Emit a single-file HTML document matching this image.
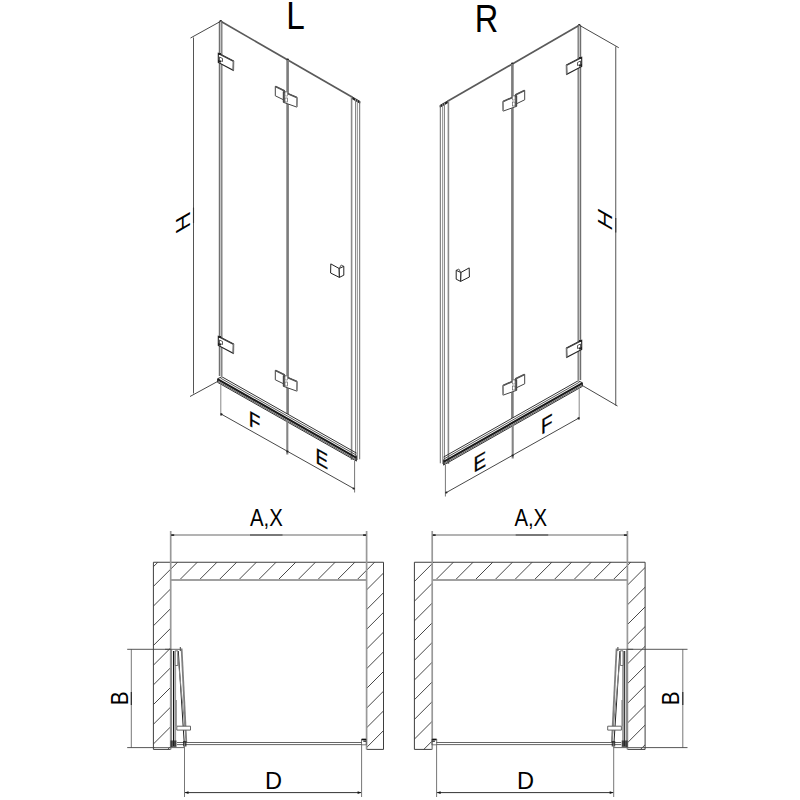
<!DOCTYPE html>
<html><head><meta charset="utf-8"><style>
html,body{margin:0;padding:0;background:#fff;width:800px;height:800px;overflow:hidden}
svg{display:block}
</style></head><body>
<svg width="800" height="800" viewBox="0 0 800 800">
<rect width="800" height="800" fill="#fff"/>
<g>
<line x1="220.75" y1="21.25" x2="352" y2="97.11" stroke="#5a5a5a" stroke-width="1.7" />
<circle cx="220.7" cy="21.4" r="1.3" fill="#222"/>
<circle cx="287.8" cy="59.8" r="1.2" fill="#222"/>
<polygon points="351.6,96.48 359.9,101.28 359.9,103.28 351.6,98.48" stroke="#111" stroke-width="0.7" fill="#222" />
<rect x="219.3" y="21.25" width="2.5" height="354.75" fill="#c4c4c4"/>
<line x1="219.3" y1="21.25" x2="219.3" y2="376" stroke="#4a4a4a" stroke-width="0.9" />
<line x1="221.9" y1="21.25" x2="221.9" y2="376" stroke="#4a4a4a" stroke-width="0.9" />
<rect x="286.3" y="59.89" width="2.6" height="354.11" fill="#7c7c7c"/>
<line x1="351.6" y1="96.38" x2="351.6" y2="460" stroke="#8a8a8a" stroke-width="1.6" />
<line x1="355.5" y1="98.64" x2="355.5" y2="460" stroke="#888" stroke-width="1" />
<line x1="357.3" y1="99.68" x2="357.3" y2="460" stroke="#888" stroke-width="1" />
<line x1="359.7" y1="101.06" x2="359.7" y2="459.3" stroke="#6a6a6a" stroke-width="1" />
<line x1="221.8" y1="376.74" x2="356.5" y2="453.11" stroke="#333" stroke-width="1.0" />
<line x1="220.5" y1="378.1" x2="356.5" y2="455.21" stroke="#444" stroke-width="0.9" />
<line x1="217.5" y1="379.1" x2="356.5" y2="457.91" stroke="#1a1a1a" stroke-width="2.2" />
<line x1="217.5" y1="381.1" x2="356.5" y2="459.91" stroke="#444" stroke-width="0.9" />
<line x1="217.5" y1="382.3" x2="356.5" y2="461.11" stroke="#333" stroke-width="1.0" />
<polyline points="221.8,376.74 217.5,378.8 217.5,382.3" stroke="#333" stroke-width="1.0" fill="none" />
<line x1="356.5" y1="455.61" x2="356.5" y2="461.11" stroke="#333" stroke-width="0.9" />
<line x1="220.8" y1="383" x2="220.8" y2="416" stroke="#888" stroke-width="1" />
<line x1="287.3" y1="420" x2="287.3" y2="454.5" stroke="#858585" stroke-width="2.1" />
<line x1="354.6" y1="461" x2="354.6" y2="492.5" stroke="#777" stroke-width="1" />
<line x1="220.5" y1="413.7" x2="354.5" y2="489" stroke="#333" stroke-width="0.9" />
<circle cx="221.5" cy="414.3" r="1.1" fill="#222"/>
<circle cx="287.4" cy="451.5" r="1.1" fill="#222"/>
<circle cx="353.6" cy="488.5" r="1.1" fill="#222"/>
<polygon points="218.3,53.3 233.5,61 233.2,70.3 218.3,62.5" stroke="#222" stroke-width="1.1" fill="#fff" />
<line x1="218.8" y1="53.6" x2="233.3" y2="61.1" stroke="#444" stroke-width="1.6" />
<line x1="233.5" y1="61" x2="233.3" y2="70.3" stroke="#777" stroke-width="1.6" />
<rect x="218" y="53" width="3" height="2" fill="#222"/>
<rect x="218" y="60" width="3" height="2.5" fill="#222"/>
<polygon points="219.5,57 222.5,58.5 222.5,61.5 219.5,60.5" stroke="#333" stroke-width="0.8" fill="#fff" />
<polygon points="218.3,336.3 233.5,344 233.2,353.3 218.3,345.5" stroke="#222" stroke-width="1.1" fill="#fff" />
<line x1="218.8" y1="336.6" x2="233.3" y2="344.1" stroke="#444" stroke-width="1.6" />
<line x1="233.5" y1="344" x2="233.3" y2="353.3" stroke="#777" stroke-width="1.6" />
<rect x="218" y="336" width="3" height="2" fill="#222"/>
<rect x="218" y="343" width="3" height="2.5" fill="#222"/>
<polygon points="219.5,340 222.5,341.5 222.5,344.5 219.5,343.5" stroke="#333" stroke-width="0.8" fill="#fff" />
<polygon points="275.3,86.3 285,91 284,100 275.3,95.8" stroke="#444" stroke-width="1.0" fill="#fff" />
<line x1="275.6" y1="86.5" x2="284.8" y2="91" stroke="#555" stroke-width="1.6" />
<polygon points="283.3,91.6 297.1,97.5 296.8,107.1 283.3,102.3" stroke="#444" stroke-width="1.0" fill="#fff" />
<line x1="284" y1="91.9" x2="296.8" y2="97.4" stroke="#555" stroke-width="1.6" />
<line x1="297.1" y1="97.5" x2="296.8" y2="107.1" stroke="#888" stroke-width="1.6" />
<rect x="283.2" y="91.5" width="1.6" height="11" fill="#444"/>
<rect x="285" y="92" width="2.5" height="4" fill="#fff" stroke="#666" stroke-width="0.6"/>
<rect x="285" y="98" width="2.5" height="4" fill="#fff" stroke="#444" stroke-width="0.6"/>
<polygon points="275.3,370.3 285,375 284,384 275.3,379.8" stroke="#444" stroke-width="1.0" fill="#fff" />
<line x1="275.6" y1="370.5" x2="284.8" y2="375" stroke="#555" stroke-width="1.6" />
<polygon points="283.3,375.6 297.1,381.5 296.8,391.1 283.3,386.3" stroke="#444" stroke-width="1.0" fill="#fff" />
<line x1="284" y1="375.9" x2="296.8" y2="381.4" stroke="#555" stroke-width="1.6" />
<line x1="297.1" y1="381.5" x2="296.8" y2="391.1" stroke="#888" stroke-width="1.6" />
<rect x="283.2" y="375.5" width="1.6" height="11" fill="#444"/>
<rect x="285" y="376" width="2.5" height="4" fill="#fff" stroke="#666" stroke-width="0.6"/>
<rect x="285" y="382" width="2.5" height="4" fill="#fff" stroke="#444" stroke-width="0.6"/>
<polygon points="330.8,263.9 339.2,268.5 339.4,277.4 330.6,273" stroke="#222" stroke-width="1" fill="#fff" />
<polygon points="339.2,268.5 343.8,266.3 343.8,275.2 339.4,277.4" stroke="#222" stroke-width="1" fill="#fff" />
<polyline points="339.2,268.5 341.2,265 343.8,266.3" stroke="#333" stroke-width="0.8" fill="none" />
</g>
<line x1="193.5" y1="37.5" x2="193.5" y2="393.5" stroke="#555" stroke-width="1.0" />
<line x1="193.5" y1="207.5" x2="193.5" y2="223" stroke="#333" stroke-width="1.1" />
<line x1="190.5" y1="38" x2="220.75" y2="21.25" stroke="#333" stroke-width="0.9" />
<line x1="190" y1="396.5" x2="217.5" y2="381.5" stroke="#333" stroke-width="0.9" />
<g transform="translate(800,4) scale(-1,1)">
<line x1="220.75" y1="21.25" x2="352" y2="97.11" stroke="#5a5a5a" stroke-width="1.7" />
<circle cx="220.7" cy="21.4" r="1.3" fill="#222"/>
<circle cx="287.8" cy="59.8" r="1.2" fill="#222"/>
<polygon points="351.6,96.48 359.9,101.28 359.9,103.28 351.6,98.48" stroke="#111" stroke-width="0.7" fill="#222" />
<rect x="219.3" y="21.25" width="2.5" height="354.75" fill="#c4c4c4"/>
<line x1="219.3" y1="21.25" x2="219.3" y2="376" stroke="#4a4a4a" stroke-width="0.9" />
<line x1="221.9" y1="21.25" x2="221.9" y2="376" stroke="#4a4a4a" stroke-width="0.9" />
<rect x="286.3" y="59.89" width="2.6" height="354.11" fill="#7c7c7c"/>
<line x1="351.6" y1="96.38" x2="351.6" y2="460" stroke="#8a8a8a" stroke-width="1.6" />
<line x1="355.5" y1="98.64" x2="355.5" y2="460" stroke="#888" stroke-width="1" />
<line x1="357.3" y1="99.68" x2="357.3" y2="460" stroke="#888" stroke-width="1" />
<line x1="359.7" y1="101.06" x2="359.7" y2="459.3" stroke="#6a6a6a" stroke-width="1" />
<line x1="221.8" y1="376.74" x2="356.5" y2="453.11" stroke="#333" stroke-width="1.0" />
<line x1="220.5" y1="378.1" x2="356.5" y2="455.21" stroke="#444" stroke-width="0.9" />
<line x1="217.5" y1="379.1" x2="356.5" y2="457.91" stroke="#1a1a1a" stroke-width="2.2" />
<line x1="217.5" y1="381.1" x2="356.5" y2="459.91" stroke="#444" stroke-width="0.9" />
<line x1="217.5" y1="382.3" x2="356.5" y2="461.11" stroke="#333" stroke-width="1.0" />
<polyline points="221.8,376.74 217.5,378.8 217.5,382.3" stroke="#333" stroke-width="1.0" fill="none" />
<line x1="356.5" y1="455.61" x2="356.5" y2="461.11" stroke="#333" stroke-width="0.9" />
<line x1="220.8" y1="383" x2="220.8" y2="416" stroke="#888" stroke-width="1" />
<line x1="287.3" y1="420" x2="287.3" y2="454.5" stroke="#858585" stroke-width="2.1" />
<line x1="354.6" y1="461" x2="354.6" y2="492.5" stroke="#777" stroke-width="1" />
<line x1="220.5" y1="413.7" x2="354.5" y2="489" stroke="#333" stroke-width="0.9" />
<circle cx="221.5" cy="414.3" r="1.1" fill="#222"/>
<circle cx="287.4" cy="451.5" r="1.1" fill="#222"/>
<circle cx="353.6" cy="488.5" r="1.1" fill="#222"/>
<polygon points="218.3,53.3 233.5,61 233.2,70.3 218.3,62.5" stroke="#222" stroke-width="1.1" fill="#fff" />
<line x1="218.8" y1="53.6" x2="233.3" y2="61.1" stroke="#444" stroke-width="1.6" />
<line x1="233.5" y1="61" x2="233.3" y2="70.3" stroke="#777" stroke-width="1.6" />
<rect x="218" y="53" width="3" height="2" fill="#222"/>
<rect x="218" y="60" width="3" height="2.5" fill="#222"/>
<polygon points="219.5,57 222.5,58.5 222.5,61.5 219.5,60.5" stroke="#333" stroke-width="0.8" fill="#fff" />
<polygon points="218.3,336.3 233.5,344 233.2,353.3 218.3,345.5" stroke="#222" stroke-width="1.1" fill="#fff" />
<line x1="218.8" y1="336.6" x2="233.3" y2="344.1" stroke="#444" stroke-width="1.6" />
<line x1="233.5" y1="344" x2="233.3" y2="353.3" stroke="#777" stroke-width="1.6" />
<rect x="218" y="336" width="3" height="2" fill="#222"/>
<rect x="218" y="343" width="3" height="2.5" fill="#222"/>
<polygon points="219.5,340 222.5,341.5 222.5,344.5 219.5,343.5" stroke="#333" stroke-width="0.8" fill="#fff" />
<polygon points="275.3,86.3 285,91 284,100 275.3,95.8" stroke="#444" stroke-width="1.0" fill="#fff" />
<line x1="275.6" y1="86.5" x2="284.8" y2="91" stroke="#555" stroke-width="1.6" />
<polygon points="283.3,91.6 297.1,97.5 296.8,107.1 283.3,102.3" stroke="#444" stroke-width="1.0" fill="#fff" />
<line x1="284" y1="91.9" x2="296.8" y2="97.4" stroke="#555" stroke-width="1.6" />
<line x1="297.1" y1="97.5" x2="296.8" y2="107.1" stroke="#888" stroke-width="1.6" />
<rect x="283.2" y="91.5" width="1.6" height="11" fill="#444"/>
<rect x="285" y="92" width="2.5" height="4" fill="#fff" stroke="#666" stroke-width="0.6"/>
<rect x="285" y="98" width="2.5" height="4" fill="#fff" stroke="#444" stroke-width="0.6"/>
<polygon points="275.3,370.3 285,375 284,384 275.3,379.8" stroke="#444" stroke-width="1.0" fill="#fff" />
<line x1="275.6" y1="370.5" x2="284.8" y2="375" stroke="#555" stroke-width="1.6" />
<polygon points="283.3,375.6 297.1,381.5 296.8,391.1 283.3,386.3" stroke="#444" stroke-width="1.0" fill="#fff" />
<line x1="284" y1="375.9" x2="296.8" y2="381.4" stroke="#555" stroke-width="1.6" />
<line x1="297.1" y1="381.5" x2="296.8" y2="391.1" stroke="#888" stroke-width="1.6" />
<rect x="283.2" y="375.5" width="1.6" height="11" fill="#444"/>
<rect x="285" y="376" width="2.5" height="4" fill="#fff" stroke="#666" stroke-width="0.6"/>
<rect x="285" y="382" width="2.5" height="4" fill="#fff" stroke="#444" stroke-width="0.6"/>
<polygon points="330.8,263.9 339.2,268.5 339.4,277.4 330.6,273" stroke="#222" stroke-width="1" fill="#fff" />
<polygon points="339.2,268.5 343.8,266.3 343.8,275.2 339.4,277.4" stroke="#222" stroke-width="1" fill="#fff" />
<polyline points="339.2,268.5 341.2,265 343.8,266.3" stroke="#333" stroke-width="0.8" fill="none" />
</g>
<line x1="615.75" y1="46.5" x2="615.75" y2="405.5" stroke="#555" stroke-width="1.0" />
<line x1="615.75" y1="218" x2="615.75" y2="232.5" stroke="#333" stroke-width="1.1" />
<line x1="579.3" y1="25.2" x2="618.75" y2="47.7" stroke="#333" stroke-width="0.9" />
<line x1="582.75" y1="385.75" x2="617.5" y2="406" stroke="#333" stroke-width="0.9" />
<text transform="translate(286.2,28.9) scale(0.87,1)" font-size="38.3" font-family="'Liberation Sans', sans-serif" fill="#000">L</text>
<text transform="translate(474.8,32) scale(0.86,1)" font-size="37.9" font-family="'Liberation Sans', sans-serif" fill="#000">R</text>
<text transform="matrix(0.866,0.5,0,1,248.8,425.2)" font-size="21.8" stroke="#000" stroke-width="0.35" font-family="'Liberation Sans', sans-serif" fill="#000">F</text>
<text transform="matrix(0.866,0.5,0,1,315.6,462.4)" font-size="21.8" stroke="#000" stroke-width="0.35" font-family="'Liberation Sans', sans-serif" fill="#000">E</text>
<text transform="matrix(0.866,-0.5,0,1,473.5,473.1)" font-size="21.8" stroke="#000" stroke-width="0.35" font-family="'Liberation Sans', sans-serif" fill="#000">E</text>
<text transform="matrix(0.866,-0.5,0,1,541,435)" font-size="21.8" stroke="#000" stroke-width="0.35" font-family="'Liberation Sans', sans-serif" fill="#000">F</text>
<text transform="matrix(0,-1,0.866,-0.5,190,226.9)" font-size="23.4" font-family="'Liberation Sans', sans-serif" fill="#000">H</text>
<text transform="matrix(0,-1,0.866,0.5,611.8,231.8)" font-size="23.4" font-family="'Liberation Sans', sans-serif" fill="#000">H</text>
<clipPath id="clipL"><polygon points="153.4,562.25 383.5,562.25 383.5,749.4 366.6,749.4 366.6,580 170.7,580 170.7,749.4 153.4,749.4"/></clipPath>
<g clip-path="url(#clipL)">
<line x1="103.75" y1="557.25" x2="-93.4" y2="754.4" stroke="#333" stroke-width="0.9"/>
<line x1="123.45" y1="557.25" x2="-73.7" y2="754.4" stroke="#333" stroke-width="0.9"/>
<line x1="143.15" y1="557.25" x2="-54" y2="754.4" stroke="#333" stroke-width="0.9"/>
<line x1="162.85" y1="557.25" x2="-34.3" y2="754.4" stroke="#333" stroke-width="0.9"/>
<line x1="182.55" y1="557.25" x2="-14.6" y2="754.4" stroke="#333" stroke-width="0.9"/>
<line x1="202.25" y1="557.25" x2="5.1" y2="754.4" stroke="#333" stroke-width="0.9"/>
<line x1="221.95" y1="557.25" x2="24.8" y2="754.4" stroke="#333" stroke-width="0.9"/>
<line x1="241.65" y1="557.25" x2="44.5" y2="754.4" stroke="#333" stroke-width="0.9"/>
<line x1="261.35" y1="557.25" x2="64.2" y2="754.4" stroke="#333" stroke-width="0.9"/>
<line x1="281.05" y1="557.25" x2="83.9" y2="754.4" stroke="#333" stroke-width="0.9"/>
<line x1="300.75" y1="557.25" x2="103.6" y2="754.4" stroke="#333" stroke-width="0.9"/>
<line x1="320.45" y1="557.25" x2="123.3" y2="754.4" stroke="#333" stroke-width="0.9"/>
<line x1="340.15" y1="557.25" x2="143" y2="754.4" stroke="#333" stroke-width="0.9"/>
<line x1="359.85" y1="557.25" x2="162.7" y2="754.4" stroke="#333" stroke-width="0.9"/>
<line x1="379.55" y1="557.25" x2="182.4" y2="754.4" stroke="#333" stroke-width="0.9"/>
<line x1="399.25" y1="557.25" x2="202.1" y2="754.4" stroke="#333" stroke-width="0.9"/>
<line x1="418.95" y1="557.25" x2="221.8" y2="754.4" stroke="#333" stroke-width="0.9"/>
<line x1="438.65" y1="557.25" x2="241.5" y2="754.4" stroke="#333" stroke-width="0.9"/>
<line x1="458.35" y1="557.25" x2="261.2" y2="754.4" stroke="#333" stroke-width="0.9"/>
<line x1="478.05" y1="557.25" x2="280.9" y2="754.4" stroke="#333" stroke-width="0.9"/>
<line x1="497.75" y1="557.25" x2="300.6" y2="754.4" stroke="#333" stroke-width="0.9"/>
<line x1="517.45" y1="557.25" x2="320.3" y2="754.4" stroke="#333" stroke-width="0.9"/>
<line x1="537.15" y1="557.25" x2="340" y2="754.4" stroke="#333" stroke-width="0.9"/>
<line x1="556.85" y1="557.25" x2="359.7" y2="754.4" stroke="#333" stroke-width="0.9"/>
<line x1="576.55" y1="557.25" x2="379.4" y2="754.4" stroke="#333" stroke-width="0.9"/>
</g>
<polyline points="170.7,749.4 153.4,749.4 153.4,562.25 383.5,562.25 383.5,749.4 366.6,749.4" stroke="#3e3e3e" stroke-width="1" fill="none" />
<line x1="170.7" y1="580" x2="366.6" y2="580" stroke="#a0a0a0" stroke-width="2.2" />
<line x1="170.7" y1="531" x2="170.7" y2="749.4" stroke="#999" stroke-width="1.7" />
<line x1="366.6" y1="531" x2="366.6" y2="749.4" stroke="#999" stroke-width="1.7" />
<line x1="170.7" y1="535.1" x2="366.6" y2="535.1" stroke="#9a9a9a" stroke-width="1.5" />
<line x1="250" y1="535.1" x2="282.5" y2="535.1" stroke="#666" stroke-width="1.5" />
<line x1="171.2" y1="535.1" x2="174.2" y2="535.1" stroke="#222" stroke-width="1.6" />
<line x1="366.1" y1="535.1" x2="363.1" y2="535.1" stroke="#222" stroke-width="1.6" />
<line x1="177" y1="742.5" x2="362" y2="742.5" stroke="#555" stroke-width="0.9" />
<line x1="177" y1="744.6" x2="362" y2="744.6" stroke="#555" stroke-width="0.9" />
<polygon points="361.5,739 366.3,739 366.3,744.8 361.5,744.8" stroke="#555" stroke-width="0.8" fill="none" />
<line x1="361.8" y1="739.6" x2="366" y2="739.6" stroke="#111" stroke-width="1.4" />
<line x1="363.3" y1="741.2" x2="366" y2="741.2" stroke="#222" stroke-width="1.2" />
<line x1="173.5" y1="651" x2="173.5" y2="746" stroke="#111" stroke-width="1.0" />
<line x1="175.2" y1="651" x2="175.2" y2="746" stroke="#999" stroke-width="1.8" />
<line x1="171.3" y1="649.3" x2="171.3" y2="747" stroke="#888" stroke-width="1.6" />
<line x1="178.3" y1="651" x2="184.3" y2="744" stroke="#222" stroke-width="1.0" />
<line x1="181.6" y1="648.5" x2="186.3" y2="742" stroke="#808080" stroke-width="1.8" />
<line x1="177.6" y1="653" x2="186" y2="738" stroke="#888" stroke-width="1.0" />
<line x1="180.3" y1="647" x2="180.3" y2="651" stroke="#444" stroke-width="1" />
<polygon points="175.2,650.8 177.8,650.8 177.8,665.5 175.2,665.5" stroke="#555" stroke-width="0.8" fill="#fff" />
<polygon points="176.8,726.2 190.5,726.2 190.5,730.1 176.8,730.1" stroke="#555" stroke-width="0.9" fill="#fff" />
<line x1="176.2" y1="700" x2="176.2" y2="726" stroke="#777" stroke-width="1" />
<line x1="165" y1="649.3" x2="180.5" y2="649.3" stroke="#555" stroke-width="0.9" />
<line x1="153.4" y1="747.6" x2="185" y2="747.6" stroke="#555" stroke-width="0.9" />
<rect x="170.5" y="740.5" width="6" height="6.5" fill="#222" opacity="0.75"/>
<rect x="183" y="741" width="3.5" height="5.5" fill="#222" opacity="0.8"/>
<line x1="184.5" y1="792.6" x2="361.6" y2="792.6" stroke="#333" stroke-width="1" />
<polygon points="184.8,792.6 188.5,791.2 188.5,794" fill="#111"/>
<polygon points="361.3,792.6 357.6,791.2 357.6,794" fill="#111"/>
<line x1="184.5" y1="742.5" x2="184.5" y2="797" stroke="#777" stroke-width="1" />
<line x1="361.6" y1="744.75" x2="361.6" y2="797" stroke="#777" stroke-width="1" />
<clipPath id="clipR"><polygon points="645.1,562.25 414.4,562.25 414.4,749.4 432.2,749.4 432.2,580 627.4,580 627.4,749.4 645.1,749.4"/></clipPath>
<g clip-path="url(#clipR)">
<line x1="182.55" y1="557.25" x2="-14.6" y2="754.4" stroke="#333" stroke-width="0.9"/>
<line x1="202.25" y1="557.25" x2="5.1" y2="754.4" stroke="#333" stroke-width="0.9"/>
<line x1="221.95" y1="557.25" x2="24.8" y2="754.4" stroke="#333" stroke-width="0.9"/>
<line x1="241.65" y1="557.25" x2="44.5" y2="754.4" stroke="#333" stroke-width="0.9"/>
<line x1="261.35" y1="557.25" x2="64.2" y2="754.4" stroke="#333" stroke-width="0.9"/>
<line x1="281.05" y1="557.25" x2="83.9" y2="754.4" stroke="#333" stroke-width="0.9"/>
<line x1="300.75" y1="557.25" x2="103.6" y2="754.4" stroke="#333" stroke-width="0.9"/>
<line x1="320.45" y1="557.25" x2="123.3" y2="754.4" stroke="#333" stroke-width="0.9"/>
<line x1="340.15" y1="557.25" x2="143" y2="754.4" stroke="#333" stroke-width="0.9"/>
<line x1="359.85" y1="557.25" x2="162.7" y2="754.4" stroke="#333" stroke-width="0.9"/>
<line x1="379.55" y1="557.25" x2="182.4" y2="754.4" stroke="#333" stroke-width="0.9"/>
<line x1="399.25" y1="557.25" x2="202.1" y2="754.4" stroke="#333" stroke-width="0.9"/>
<line x1="418.95" y1="557.25" x2="221.8" y2="754.4" stroke="#333" stroke-width="0.9"/>
<line x1="438.65" y1="557.25" x2="241.5" y2="754.4" stroke="#333" stroke-width="0.9"/>
<line x1="458.35" y1="557.25" x2="261.2" y2="754.4" stroke="#333" stroke-width="0.9"/>
<line x1="478.05" y1="557.25" x2="280.9" y2="754.4" stroke="#333" stroke-width="0.9"/>
<line x1="497.75" y1="557.25" x2="300.6" y2="754.4" stroke="#333" stroke-width="0.9"/>
<line x1="517.45" y1="557.25" x2="320.3" y2="754.4" stroke="#333" stroke-width="0.9"/>
<line x1="537.15" y1="557.25" x2="340" y2="754.4" stroke="#333" stroke-width="0.9"/>
<line x1="556.85" y1="557.25" x2="359.7" y2="754.4" stroke="#333" stroke-width="0.9"/>
<line x1="576.55" y1="557.25" x2="379.4" y2="754.4" stroke="#333" stroke-width="0.9"/>
<line x1="596.25" y1="557.25" x2="399.1" y2="754.4" stroke="#333" stroke-width="0.9"/>
<line x1="615.95" y1="557.25" x2="418.8" y2="754.4" stroke="#333" stroke-width="0.9"/>
<line x1="635.65" y1="557.25" x2="438.5" y2="754.4" stroke="#333" stroke-width="0.9"/>
<line x1="655.35" y1="557.25" x2="458.2" y2="754.4" stroke="#333" stroke-width="0.9"/>
<line x1="675.05" y1="557.25" x2="477.9" y2="754.4" stroke="#333" stroke-width="0.9"/>
<line x1="694.75" y1="557.25" x2="497.6" y2="754.4" stroke="#333" stroke-width="0.9"/>
<line x1="714.45" y1="557.25" x2="517.3" y2="754.4" stroke="#333" stroke-width="0.9"/>
<line x1="734.15" y1="557.25" x2="537" y2="754.4" stroke="#333" stroke-width="0.9"/>
<line x1="753.85" y1="557.25" x2="556.7" y2="754.4" stroke="#333" stroke-width="0.9"/>
<line x1="773.55" y1="557.25" x2="576.4" y2="754.4" stroke="#333" stroke-width="0.9"/>
<line x1="793.25" y1="557.25" x2="596.1" y2="754.4" stroke="#333" stroke-width="0.9"/>
<line x1="812.95" y1="557.25" x2="615.8" y2="754.4" stroke="#333" stroke-width="0.9"/>
<line x1="832.65" y1="557.25" x2="635.5" y2="754.4" stroke="#333" stroke-width="0.9"/>
<line x1="852.35" y1="557.25" x2="655.2" y2="754.4" stroke="#333" stroke-width="0.9"/>
</g>
<polyline points="627.4,749.4 645.1,749.4 645.1,562.25 414.4,562.25 414.4,749.4 432.2,749.4" stroke="#3e3e3e" stroke-width="1" fill="none" />
<line x1="627.4" y1="580" x2="432.2" y2="580" stroke="#a0a0a0" stroke-width="2.2" />
<line x1="627.4" y1="531" x2="627.4" y2="749.4" stroke="#999" stroke-width="1.7" />
<line x1="432.2" y1="531" x2="432.2" y2="749.4" stroke="#999" stroke-width="1.7" />
<line x1="627.4" y1="535.1" x2="432.2" y2="535.1" stroke="#9a9a9a" stroke-width="1.5" />
<line x1="548.2" y1="535.1" x2="515.7" y2="535.1" stroke="#666" stroke-width="1.5" />
<line x1="626.9" y1="535.1" x2="623.9" y2="535.1" stroke="#222" stroke-width="1.6" />
<line x1="432.7" y1="535.1" x2="435.7" y2="535.1" stroke="#222" stroke-width="1.6" />
<line x1="621.2" y1="742.5" x2="436.2" y2="742.5" stroke="#555" stroke-width="0.9" />
<line x1="621.2" y1="744.6" x2="436.2" y2="744.6" stroke="#555" stroke-width="0.9" />
<polygon points="436.7,739 431.9,739 431.9,744.8 436.7,744.8" stroke="#555" stroke-width="0.8" fill="none" />
<line x1="436.4" y1="739.6" x2="432.2" y2="739.6" stroke="#111" stroke-width="1.4" />
<line x1="434.9" y1="741.2" x2="432.2" y2="741.2" stroke="#222" stroke-width="1.2" />
<line x1="624.7" y1="651" x2="624.7" y2="746" stroke="#111" stroke-width="1.0" />
<line x1="623" y1="651" x2="623" y2="746" stroke="#999" stroke-width="1.8" />
<line x1="626.9" y1="649.3" x2="626.9" y2="747" stroke="#888" stroke-width="1.6" />
<line x1="619.9" y1="651" x2="613.9" y2="744" stroke="#222" stroke-width="1.0" />
<line x1="616.6" y1="648.5" x2="611.9" y2="742" stroke="#808080" stroke-width="1.8" />
<line x1="620.6" y1="653" x2="612.2" y2="738" stroke="#888" stroke-width="1.0" />
<line x1="617.9" y1="647" x2="617.9" y2="651" stroke="#444" stroke-width="1" />
<polygon points="623,650.8 620.4,650.8 620.4,665.5 623,665.5" stroke="#555" stroke-width="0.8" fill="#fff" />
<polygon points="621.4,726.2 607.7,726.2 607.7,730.1 621.4,730.1" stroke="#555" stroke-width="0.9" fill="#fff" />
<line x1="622" y1="700" x2="622" y2="726" stroke="#777" stroke-width="1" />
<line x1="633.2" y1="649.3" x2="617.7" y2="649.3" stroke="#555" stroke-width="0.9" />
<line x1="644.8" y1="747.6" x2="613.2" y2="747.6" stroke="#555" stroke-width="0.9" />
<rect x="621.7" y="740.5" width="6" height="6.5" fill="#222" opacity="0.75"/>
<rect x="611.7" y="741" width="3.5" height="5.5" fill="#222" opacity="0.8"/>
<line x1="613.7" y1="792.6" x2="436.6" y2="792.6" stroke="#333" stroke-width="1" />
<polygon points="613.4,792.6 609.7,791.2 609.7,794" fill="#111"/>
<polygon points="436.9,792.6 440.6,791.2 440.6,794" fill="#111"/>
<line x1="613.7" y1="742.5" x2="613.7" y2="797" stroke="#777" stroke-width="1" />
<line x1="436.6" y1="744.75" x2="436.6" y2="797" stroke="#777" stroke-width="1" />
<line x1="131.3" y1="649.3" x2="131.3" y2="747.6" stroke="#777" stroke-width="1" />
<line x1="131.3" y1="692" x2="131.3" y2="705" stroke="#222" stroke-width="1.1" />
<line x1="127.2" y1="649.3" x2="170.7" y2="649.3" stroke="#444" stroke-width="0.9" />
<line x1="127.2" y1="747.6" x2="154.4" y2="747.6" stroke="#444" stroke-width="0.9" />
<line x1="682.8" y1="649.3" x2="682.8" y2="747.6" stroke="#777" stroke-width="1" />
<line x1="682.8" y1="692" x2="682.8" y2="705" stroke="#222" stroke-width="1.1" />
<line x1="627.5" y1="649.3" x2="687.5" y2="649.3" stroke="#444" stroke-width="0.9" />
<line x1="644.4" y1="747.6" x2="687.5" y2="747.6" stroke="#444" stroke-width="0.9" />
<text transform="translate(128,705.2) rotate(-90) scale(0.865,1)" font-size="24" font-family="'Liberation Sans', sans-serif" fill="#000">B</text>
<text transform="translate(679.2,705.3) rotate(-90) scale(0.865,1)" font-size="24" font-family="'Liberation Sans', sans-serif" fill="#000">B</text>
<text transform="translate(250,526) scale(0.866,1)" font-size="23.5" font-family="'Liberation Sans', sans-serif" fill="#000">A,X</text>
<text transform="translate(514.4,526) scale(0.866,1)" font-size="23.5" font-family="'Liberation Sans', sans-serif" fill="#000">A,X</text>
<text x="265" y="788.8" font-size="23.6" font-family="'Liberation Sans', sans-serif" fill="#000">D</text>
<text x="517" y="788.8" font-size="23.6" font-family="'Liberation Sans', sans-serif" fill="#000">D</text>
</svg>
</body></html>
